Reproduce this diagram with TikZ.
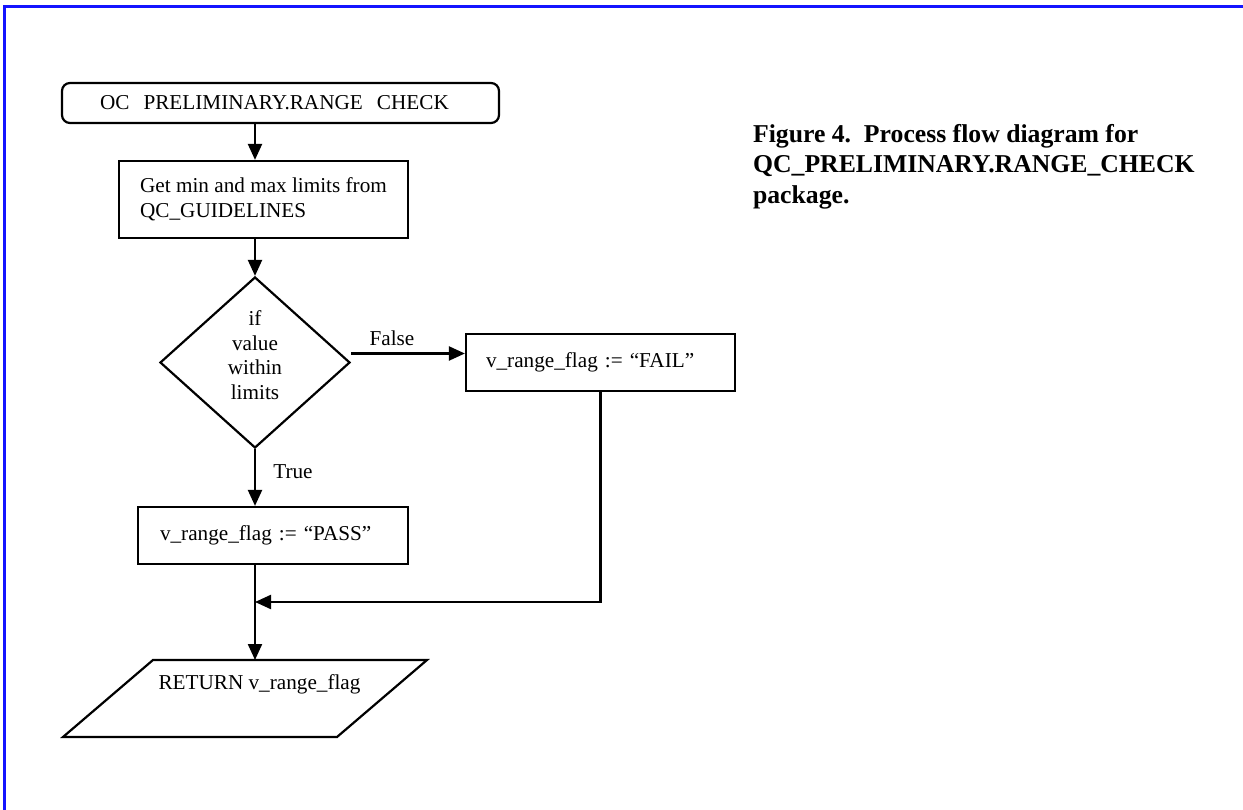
\documentclass[tikz,border=0pt]{standalone}
\usepackage{fontspec}
\setmainfont{Liberation Serif}
\usetikzlibrary{shapes.geometric,arrows.meta}
\definecolor{frameblue}{RGB}{20,20,255}
\begin{document}
\begin{tikzpicture}[x=1pt,y=-1pt,
  font=\fontsize{21.2}{24.6}\selectfont,
  line width=2.2pt,
  arr/.style={-{Triangle[length=16pt,width=14pt]}},
  procbox/.style={draw, rectangle, inner ysep=0pt, align=left},
  decision/.style={draw, diamond, inner sep=0pt,
                   minimum width=190pt, minimum height=171pt},
  lbl/.style={inner sep=0pt}
]
\useasboundingbox (0,0) rectangle (1243,810);
% frame lines along the top and left
\draw[frameblue, line width=3pt] (4,810) -- (4,7) -- (1243,7);

% start terminal
\node[procbox, rounded corners=8pt, minimum height=40pt,
      text width=361pt, inner xsep=38pt] (start) at (280.5,103)
      {OC~~PRELIMINARY.RANGE~~CHECK};

% read limits
\node[procbox, minimum height=77pt, minimum width=289pt]
      (limits) at (263.5,199.5)
      {Get min and max limits from\\QC\_GUIDELINES};

% range test (text sits a little above the centre)
\node[decision] (dia) at (255,362.5)
      {\raisebox{5pt}[\height][\depth]{\begin{tabular}{@{}c@{}}if\\value\\within\\limits\end{tabular}}};

% outcomes
\node[procbox, minimum height=57pt, text width=229pt, inner xsep=20pt]
      (fail) at (600.5,362.5) {v\_range\_flag := “FAIL”};
\node[procbox, minimum height=57pt, text width=226pt, inner xsep=22pt]
      (pass) at (273,535.5) {v\_range\_flag := “PASS”};

% return (parallelogram)
\draw (153,660) -- (427,660) -- (337,737) -- (63,737) -- cycle;
\node[lbl] (ret) at (259.5,684) {RETURN v\_range\_flag};
\coordinate (rettop) at (255,660);
\coordinate (join) at (255,602);

% connectors
\draw[arr] (start.south -| dia.north) -- (limits.north -| dia.north);
\draw[arr] (limits.south -| dia.north) -- (dia.north);
\draw[arr] ([yshift=9pt]dia.east) -- ([yshift=9pt]fail.west);
\draw[arr] (dia.south) -- (pass.north -| dia.south);
\draw[arr] (pass.south -| dia.south) -- (rettop);
\draw[arr] (fail.south) |- (join);

% branch labels
\node[lbl] (lblfalse) at (392,338) {False};
\node[lbl] (lbltrue) at (293,472) {True};

% caption
\node[anchor=north west, inner sep=0pt, align=left,
      font=\fontsize{25.7}{30.5}\selectfont\bfseries] (cap) at (752,123)
      {Figure 4.~~Process flow diagram for\\QC\_PRELIMINARY.RANGE\_CHECK\\package.};
\end{tikzpicture}
\end{document}
